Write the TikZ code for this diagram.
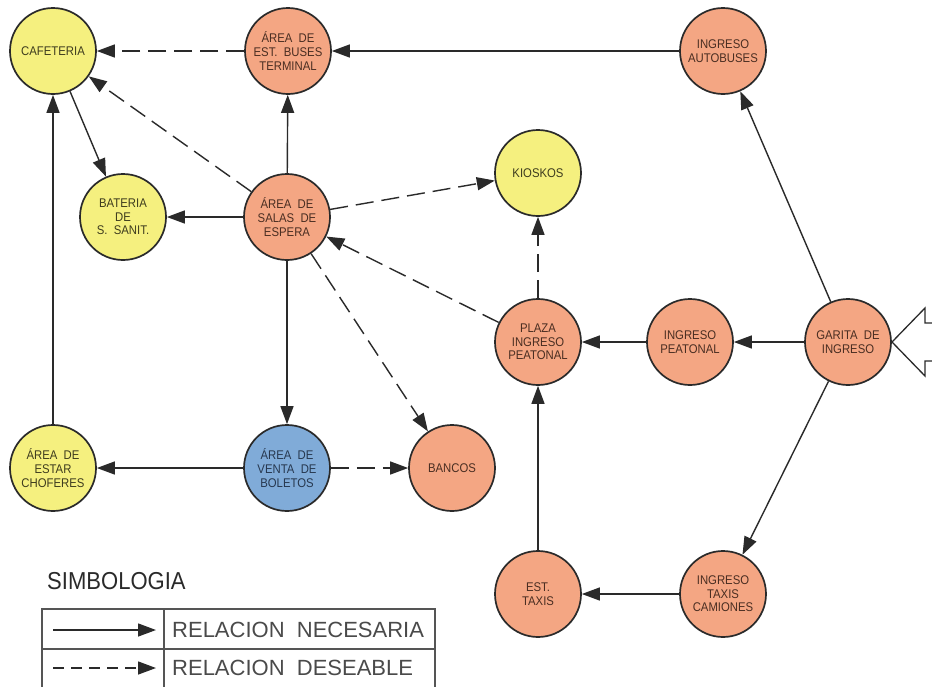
\documentclass[tikz,border=0pt]{standalone}
\usepackage{fontspec}
\setmainfont{Liberation Sans}
\newfontfamily\nodefont[FakeStretch=0.9]{Liberation Sans}
\newfontfamily\legfont[FakeStretch=0.9]{Liberation Sans}
\usetikzlibrary{arrows.meta}
\definecolor{cyel}{HTML}{F5F07F}
\definecolor{cora}{HTML}{F4A683}
\definecolor{cblu}{HTML}{80ABD8}
\definecolor{tyel}{HTML}{3E3C1E}
\definecolor{tora}{HTML}{4A2E22}
\definecolor{tblu}{HTML}{27384F}
\definecolor{lin}{HTML}{2A2A2A}
\tikzset{
  room/.style={circle, draw=lin, line width=1.7pt, minimum size=86pt, inner sep=0pt,
    align=center, font=\nodefont\fontsize{12.6}{13.6}\selectfont},
  yel/.style={room, fill=cyel, text=tyel},
  ora/.style={room, fill=cora, text=tora},
  blu/.style={room, fill=cblu, text=tblu},
  nec/.style={draw=lin, line width=1.4pt, -{Triangle[length=18pt,width=13pt]}},
  des/.style={nec, dash pattern=on 18pt off 8pt},
  legdes/.style={nec, dash pattern=on 11pt off 7pt},
  tab/.style={draw=lin!80, line width=1.2pt},
}
\begin{document}
\begin{tikzpicture}[x=1pt,y=-1pt]
\clip (0,0) rectangle (932,686);
\fill[white] (0,0) rectangle (932,686);

% nodes
\node[yel] (caf) at (53,51) {CAFETERIA};
\node[ora] (bus) at (288,51) {ÁREA\ \ DE\\EST.\ \ BUSES\\TERMINAL};
\node[ora] (iab) at (723,51) {INGRESO\\AUTOBUSES};
\node[yel] (ban) at (123,217) {BATERIA\\DE\\S.\ \ SANIT.};
\node[ora] (sal) at (287,217) {ÁREA\ \ DE\\SALAS\ \ DE\\ESPERA};
\node[yel] (kio) at (538,173) {KIOSKOS};
\node[ora] (pla) at (538,342) {PLAZA\\INGRESO\\PEATONAL};
\node[ora] (ipe) at (690,342) {INGRESO\\PEATONAL};
\node[ora] (gar) at (848,342) {GARITA\ \ DE\\INGRESO};
\node[yel] (cho) at (53,468) {ÁREA\ \ DE\\ESTAR\\CHOFERES};
\node[blu] (ven) at (287,468) {ÁREA\ \ DE\\VENTA\ \ DE\\BOLETOS};
\node[ora] (bnc) at (452,468) {BANCOS};
\node[ora] (etx) at (538,594) {EST.\\TAXIS};
\node[ora] (itx) at (723,594) {INGRESO\\TAXIS\\CAMIONES};

% entrance arrow
\draw[draw=lin, line width=1.3pt, fill=white]
  (945,323) -- (925,323) -- (925,308) -- (892,342) -- (925,376) -- (925,361) -- (945,361);

% necessary relations
\draw[nec] (iab) -- (bus);
\draw[nec] (sal) -- (bus);
\draw[nec] (caf) -- (ban);
\draw[nec] (sal) -- (ban);
\draw[nec] (cho) -- (caf);
\draw[nec] (sal) -- (ven);
\draw[nec] (ven) -- (cho);
\draw[nec] (gar) -- (iab);
\draw[nec] (gar) -- (ipe);
\draw[nec] (ipe) -- (pla);
\draw[nec] (gar) -- (itx);
\draw[nec] (itx) -- (etx);
\draw[nec] (etx) -- (pla);

% desirable relations
\draw[des] (bus) -- (caf);
\draw[des] (sal) -- (caf);
\draw[des] (sal) -- (kio);
\draw[des] (pla) -- (kio);
\draw[des] (pla) -- (sal);
\draw[des] (sal) -- (bnc);
\draw[des] (ven) -- (bnc);

% legend
\node[anchor=base west, inner sep=0pt, font=\legfont\fontsize{24.5}{24}\selectfont, text=lin] (simb) at (47,589) {SIMBOLOGIA};
\draw[tab] (42,700) -- (42,609) -- (435,609) -- (435,700);
\draw[tab] (42,649) -- (435,649);
\draw[tab] (164,609) -- (164,700);
\coordinate (l1a) at (53,630);
\coordinate (l1b) at (156,630);
\coordinate (l2a) at (53,668);
\coordinate (l2b) at (156,668);
\draw[nec] (l1a) -- (l1b);
\draw[legdes] (l2a) -- (l2b);
\node[anchor=west, inner sep=0pt, font=\fontsize{22}{22}\selectfont, text=lin!85] (t1) at (172,630) {RELACION\ \ NECESARIA};
\node[anchor=west, inner sep=0pt, font=\fontsize{22}{22}\selectfont, text=lin!85] (t2) at (172,668) {RELACION\ \ DESEABLE};
\end{tikzpicture}
\end{document}
